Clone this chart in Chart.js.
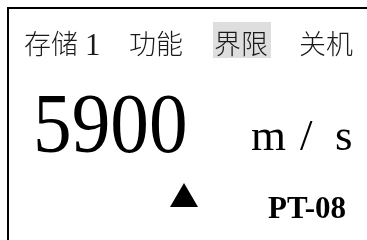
<!DOCTYPE html>
<html>
<head>
<meta charset="utf-8">
<script src="https://cdn.jsdelivr.net/npm/chart.js@4"></script>
<style>
html,body{margin:0;padding:0;background:#fff;}
#wrap{position:relative;width:367px;height:240px;}
</style>
</head>
<body>
<div id="wrap"><canvas id="c"></canvas></div>
<script>
// ---- data ----
const menuItems = ['存储', '功能', '界限', '关机'];
const memorySlot = ['1'];
const selectedMenu = ['界限'];
const readingValue = [5900];
const unitParts = ['m', '/', 's'];
const trendSymbol = ['▲'];
const probeModel = ['PT-08'];

const CJK = '"Noto Sans CJK SC"';
const SERIF = '"Liberation Serif", "Times New Roman", serif';

const panelPlugin = {
  id: 'panel',
  afterDraw(chart) {
    const ctx = chart.ctx;
    ctx.save();
    // frame
    ctx.strokeStyle = '#000';
    ctx.lineWidth = 2;
    ctx.beginPath();
    ctx.moveTo(8, 240);
    ctx.lineTo(8, 8);
    ctx.lineTo(367, 8);
    ctx.stroke();

    // menu
    const menuX = [24, 129, 214, 299];
    const base = 55;
    menuItems.forEach((m, i) => {
      if (selectedMenu.includes(m)) {
        ctx.fillStyle = '#dedede';
        ctx.fillRect(213, 22, 58, 36);
      }
      ctx.fillStyle = '#1a1a1a';
      ctx.font = '300 27px ' + CJK;
      ctx.textBaseline = 'alphabetic';
      ctx.textAlign = 'left';
      ctx.fillText(m, menuX[i], base - 1);
    });
    ctx.font = '31px ' + SERIF;
    ctx.fillText(memorySlot[0], 85, base);

    // reading
    ctx.fillStyle = '#000';
    ctx.save();
    ctx.translate(33, 152);
    ctx.scale(0.92, 1);
    ctx.font = '84px ' + SERIF;
    ctx.fillText(String(readingValue[0]), 0, 0);
    ctx.restore();

    ctx.font = '45px ' + SERIF;
    const unitX = [251, 300, 335];
    unitParts.forEach((p, i) => ctx.fillText(p, unitX[i], 150));

    // trend
    ctx.beginPath();
    ctx.moveTo(184, 183);
    ctx.lineTo(198, 207);
    ctx.lineTo(170, 207);
    ctx.closePath();
    ctx.fill();

    // probe
    ctx.font = 'bold 31px ' + SERIF;
    ctx.fillText(probeModel[0], 268, 218);
    ctx.restore();
  }
};

new Chart(document.getElementById('c'), {
  type: 'scatter',
  data: { datasets: [{ data: [] }] },
  options: {
    responsive: true,
    maintainAspectRatio: false,
    animation: false,
    events: [],
    layout: { padding: 0 },
    plugins: { legend: { display: false }, tooltip: { enabled: false }, title: { display: false } },
    scales: { x: { display: false }, y: { display: false } }
  },
  plugins: [panelPlugin]
});
</script>
</body>
</html>
